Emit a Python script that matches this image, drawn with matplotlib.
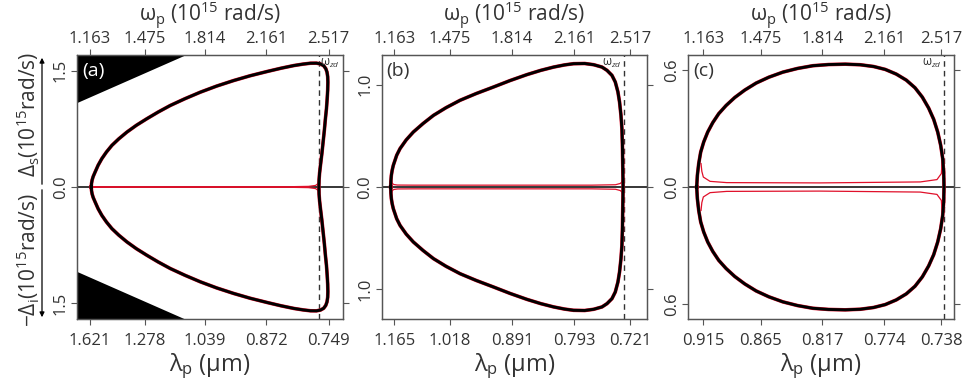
import matplotlib.pyplot as plt

plt.rcParams['font.family'] = ['Open Sans', 'DejaVu Sans']
plt.rcParams['mathtext.fontset'] = 'custom'
plt.rcParams['mathtext.rm'] = 'Open Sans'
plt.rcParams['mathtext.it'] = 'Open Sans:italic'

TWO_PI_C = 1.883652  # 2*pi*c in (10^15 rad/s) * um

top_labels = ['1.163', '1.475', '1.814', '2.161', '2.517']

# ---- panel (a) ----
lam_a = ['1.621', '1.278', '1.039', '0.872', '0.749']
w_a = [1.169, 1.1705, 1.174, 1.180, 1.191, 1.208, 1.229, 1.255, 1.286, 1.325, 1.371,
       1.425, 1.484, 1.548, 1.617, 1.700, 1.787, 1.880, 1.976, 2.070, 2.165, 2.245,
       2.317, 2.370, 2.411, 2.445, 2.468, 2.486, 2.498, 2.505, 2.509, 2.510, 2.509,
       2.506, 2.502, 2.496, 2.490, 2.483, 2.476, 2.468, 2.463, 2.460, 2.459]
ds_a = [0.0, 0.045, 0.09, 0.135, 0.193, 0.28, 0.365, 0.45, 0.536, 0.62, 0.707,
        0.795, 0.879, 0.965, 1.050, 1.137, 1.221, 1.300, 1.371, 1.433, 1.487, 1.530,
        1.564, 1.583, 1.594, 1.595, 1.585, 1.562, 1.525, 1.48, 1.42, 1.350, 1.25,
        1.136, 1.01, 0.879, 0.73, 0.579, 0.43, 0.279, 0.18, 0.09, 0.0]
di_a = [0.0, 0.045, 0.09, 0.135, 0.193, 0.28, 0.365, 0.45, 0.536, 0.62, 0.707,
        0.795, 0.879, 0.965, 1.050, 1.137, 1.221, 1.300, 1.371, 1.433, 1.487, 1.530,
        1.564, 1.583, 1.594, 1.595, 1.585, 1.562, 1.525, 1.48, 1.42, 1.350, 1.25,
        1.136, 1.01, 0.879, 0.73, 0.579, 0.43, 0.279, 0.18, 0.09, 0.0]
red_w_a = [1.172, 2.30, 2.40, 2.44, 2.455]
red_d_a = [0.004, 0.004, 0.008, 0.02, 0.045]
wzd_a = 2.461
edge_w_a = [1.08, 1.72]
edge_d_a = [1.08, 1.72]

# ---- panel (b) ----
lam_b = ['1.165', '1.018', '0.891', '0.793', '0.721']
w_b = [1.6016, 1.6025, 1.6044, 1.608, 1.6127, 1.6269, 1.641, 1.667, 1.697, 1.738,
       1.782, 1.835, 1.894, 1.962, 2.035, 2.105, 2.176, 2.235, 2.289, 2.335, 2.373,
       2.420, 2.458, 2.493, 2.514, 2.535, 2.549, 2.560, 2.567, 2.573, 2.577, 2.579,
       2.580, 2.581, 2.582]
ds_b = [0.0, 0.06, 0.114, 0.165, 0.212, 0.310, 0.375, 0.46, 0.537, 0.62,
        0.700, 0.775, 0.847, 0.913, 0.977, 1.040, 1.098, 1.140, 1.172, 1.193, 1.205,
        1.207, 1.195, 1.172, 1.140, 1.091, 1.026, 0.93, 0.830, 0.70, 0.570, 0.42,
        0.277, 0.14, 0.0]
di_b = [0.0, 0.06, 0.114, 0.165, 0.212, 0.310, 0.375, 0.46, 0.537, 0.62,
        0.700, 0.775, 0.847, 0.913, 0.977, 1.040, 1.098, 1.140, 1.172, 1.193, 1.205,
        1.207, 1.195, 1.172, 1.140, 1.091, 1.026, 0.93, 0.830, 0.70, 0.570, 0.42,
        0.277, 0.14, 0.0]
red_w_b = [1.6058, 1.608, 1.615, 1.63, 1.70, 2.45, 2.55, 2.5705, 2.577, 2.5799]
red_d_b = [0.055, 0.035, 0.024, 0.019, 0.018, 0.018, 0.022, 0.035, 0.05, 0.072]
wzd_b = 2.587

# ---- panel (c) ----
lam_c = ['0.915', '0.865', '0.817', '0.774', '0.738']
w_c = [2.0448, 2.0462, 2.0490, 2.0531, 2.0594, 2.0677, 2.0781, 2.0905, 2.1058,
       2.1238, 2.1445, 2.1681, 2.1944, 2.2235, 2.2539, 2.2858, 2.3183, 2.3529,
       2.3841, 2.4118, 2.4360, 2.4589, 2.4797, 2.4977, 2.5129, 2.5260, 2.5365,
       2.5448, 2.5510, 2.5552, 2.5572, 2.5579]
ds_c = [0.0, 0.060, 0.120, 0.179, 0.231, 0.282, 0.330, 0.376, 0.418,
        0.459, 0.497, 0.533, 0.563, 0.589, 0.608, 0.622, 0.628, 0.630,
        0.627, 0.618, 0.603, 0.579, 0.548, 0.509, 0.461, 0.405, 0.347,
        0.282, 0.214, 0.145, 0.077, 0.0]
di_c = [0.0, 0.060, 0.120, 0.179, 0.231, 0.282, 0.330, 0.376, 0.418,
        0.459, 0.497, 0.533, 0.563, 0.589, 0.608, 0.622, 0.628, 0.630,
        0.627, 0.618, 0.603, 0.579, 0.548, 0.509, 0.461, 0.405, 0.347,
        0.282, 0.214, 0.145, 0.077, 0.0]
red_w_c = [2.0538, 2.0555, 2.0586, 2.0725, 2.107, 2.30, 2.5087, 2.5433, 2.5524, 2.5538]
red_d_c = [0.120, 0.080, 0.051, 0.029, 0.0225, 0.021, 0.026, 0.038, 0.069, 0.128]
wzd_c = 2.557

panels = [
    dict(tag='(a)', lam=lam_a, w=w_a, ds=ds_a, di=di_a, rw=red_w_a, rd=red_d_a, wzd=wzd_a,
         xlim=(1.090, 2.594), ylim=1.70, ytick=1.5, ylab='1.5', left=77.3, zd_side='right'),
    dict(tag='(b)', lam=lam_b, w=w_b, ds=ds_b, di=di_b, rw=red_w_b, rd=red_d_b, wzd=wzd_b,
         xlim=(1.5637, 2.6832), ylim=1.29, ytick=1.0, ylab='1.0', left=381.7, zd_side='left'),
    dict(tag='(c)', lam=lam_c, w=w_c, ds=ds_c, di=di_c, rw=red_w_c, rd=red_d_c, wzd=wzd_c,
         xlim=(2.0274, 2.578), ylim=0.677, ytick=0.6, ylab='0.6', left=688.3, zd_side='left'),
]

W, H = 965, 388
fig = plt.figure(figsize=(W / 100, H / 100), dpi=100)
spine_c = '#555555'
txt_c = '#333333'
red = '#e0102a'

for p in panels:
    ax = fig.add_axes([p['left'] / W, 1 - 319 / H, 265.4 / W, 264 / H])
    ax.set_xlim(p['xlim'])
    ax.set_ylim(-p['ylim'], p['ylim'])

    if p['tag'] == '(a)':
        ax.fill_between(edge_w_a, edge_d_a, 2.0, color='black', lw=0)
        ax.fill_between(edge_w_a, [-d for d in edge_d_a], -2.0, color='black', lw=0)

    ax.axhline(0, color='black', lw=1.1, zorder=2)
    ax.axvline(p['wzd'], color='#333333', lw=1.0, ls=(0, (4, 3)), zorder=2)

    loop_w = p['w'] + p['w'][::-1]
    loop_d = p['ds'] + [-d for d in p['di'][::-1]]
    ax.plot(loop_w, loop_d, color=red, lw=2.6, zorder=3, solid_joinstyle='round')
    ax.plot(loop_w, loop_d, color='black', lw=2.1, zorder=4, solid_joinstyle='round')
    ax.plot(p['rw'], p['rd'], color=red, lw=0.9, zorder=3)
    ax.plot(p['rw'], [-d for d in p['rd']], color=red, lw=0.9, zorder=3)

    bottom_pos = [TWO_PI_C / float(s) for s in p['lam']]
    ax.set_xticks(bottom_pos)
    ax.set_xticklabels(p['lam'])
    ax.set_yticks([p['ytick'], 0, -p['ytick']])
    ax.set_yticklabels([p['ylab'], '0.0', p['ylab']], rotation=90, va='center')
    ax.tick_params(direction='out', length=4, width=0.8, color=spine_c, labelcolor=txt_c,
                   labelsize=12, right=True, pad=2)
    ax.tick_params(axis='x', pad=6)
    for s in ax.spines.values():
        s.set_color(spine_c)
        s.set_linewidth(0.9)
    ax.set_xlabel('λ$_\\mathrm{p}$ (μm)', fontsize=17, color=txt_c, va='center')
    ax.xaxis.set_label_coords(0.5, -0.178)

    ax2 = ax.twiny()
    ax2.set_xlim(p['xlim'])
    ax2.set_xticks(bottom_pos)
    ax2.set_xticklabels(top_labels)
    ax2.tick_params(direction='out', length=4, width=0.8, color=spine_c, labelcolor=txt_c,
                    labelsize=12, pad=2)
    for s in ax2.spines.values():
        s.set_color(spine_c)
        s.set_linewidth(0.9)
    ax2.set_xlabel('ω$_\\mathrm{p}$ (10$^{15}$ rad/s)', fontsize=15, color=txt_c, va='center')
    ax2.xaxis.set_label_coords(0.5, 1.15)

    tag_color = 'white' if p['tag'] == '(a)' else txt_c
    ax.text(0.018, 0.975, p['tag'], transform=ax.transAxes, ha='left', va='top',
            fontsize=14, color=tag_color, zorder=6)
    if p['zd_side'] == 'right':
        ax.text(p['wzd'] + 0.006, p['ylim'] * 0.985, 'ω$_{zd}$', ha='left', va='top',
                fontsize=8.5, color=txt_c, zorder=6)
    else:
        ax.text(p['wzd'] - (p['xlim'][1] - p['xlim'][0]) * 0.008, p['ylim'] * 0.985,
                'ω$_{zd}$', ha='right', va='top', fontsize=8.5, color=txt_c, zorder=6)

# split y label with arrows
fig.text(28 / W, 1 - 114 / H, 'Δ$_\\mathrm{s}$(10$^{15}$rad/s)', rotation=90,
         ha='center', va='center', fontsize=15, color=txt_c)
fig.text(28 / W, 1 - 260 / H, '−Δ$_\\mathrm{i}$(10$^{15}$rad/s)', rotation=90,
         ha='center', va='center', fontsize=15, color=txt_c)
fig.add_artist(plt.Annotation('', xy=(42 / W, 1 - 55 / H), xytext=(42 / W, 1 - 187 / H),
                              xycoords='figure fraction',
                              arrowprops=dict(arrowstyle='-|>', color='black', lw=0.9,
                                              mutation_scale=7)))
fig.add_artist(plt.Annotation('', xy=(42 / W, 1 - 320 / H), xytext=(42 / W, 1 - 187 / H),
                              xycoords='figure fraction',
                              arrowprops=dict(arrowstyle='-|>', color='black', lw=0.9,
                                              mutation_scale=7)))

fig.savefig('out.png', dpi=100)
